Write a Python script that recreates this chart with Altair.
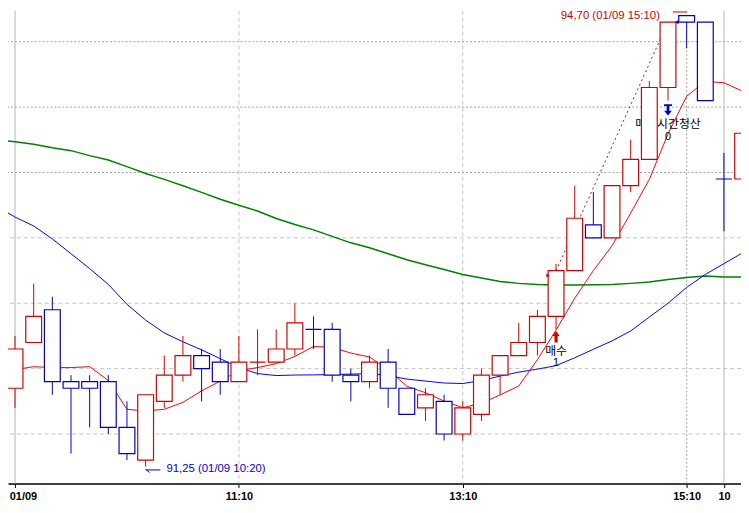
import altair as alt
import pandas as pd

# ---------------- data ----------------
# 10-minute bars; index 0 = first bar of 01/09, index 38 = first bar of 01/10
bar_idx = list(range(-1, 40))
opens = [91.85, 91.85, 92.20, 92.45, 91.90, 91.90, 91.90, 91.55, 91.30, 91.75,
         91.95, 92.10, 92.05, 91.90, 92.05, 92.05, 92.15, 92.30, 92.30, 91.95,
         91.90, 92.05, 91.85, 91.70, 91.75, 91.50, 91.65, 91.95, 92.10, 92.20,
         92.40, 92.75, 93.10, 93.00, 93.40, 93.60, 94.15, 94.70, 94.65, 93.45,
         93.45]
highs = [91.85, 92.25, 92.65, 92.55, 91.95, 91.95, 91.95, 91.75, 91.80, 92.10,
         92.25, 92.15, 92.15, 92.25, 92.30, 92.30, 92.50, 92.40, 92.35, 92.00,
         92.10, 92.15, 91.85, 91.85, 91.80, 91.75, 92.00, 92.10, 92.35, 92.45,
         92.80, 93.40, 93.35, 93.40, 93.75, 94.20, 94.65, 94.70, 94.65, 93.65,
         93.80]
lows = [91.80, 91.70, 92.20, 91.80, 91.35, 91.55, 91.50, 91.30, 91.25, 91.70,
        91.90, 91.75, 91.80, 91.90, 91.95, 92.05, 92.10, 92.15, 91.90, 91.75,
        91.85, 91.70, 91.65, 91.60, 91.45, 91.45, 91.60, 91.80, 92.10, 92.10,
        92.30, 92.75, 93.00, 93.00, 93.35, 93.60, 94.05, 94.45, 94.05, 93.05,
        93.45]
closes = [91.80, 92.15, 92.40, 91.90, 91.85, 91.85, 91.55, 91.35, 91.80, 91.95,
          92.10, 92.00, 91.90, 92.05, 92.05, 92.15, 92.35, 92.30, 91.95, 91.90,
          92.05, 91.85, 91.65, 91.80, 91.50, 91.70, 91.95, 92.10, 92.20, 92.40,
          92.75, 93.15, 93.00, 93.40, 93.60, 94.15, 94.65, 94.65, 94.05, 93.45,
          93.80]
updown = ["down", "up", "up", "down", "down", "down", "down", "down", "up", "up",
          "up", "down", "down", "up", "up", "up", "up", "down", "down", "down",
          "up", "down", "down", "up", "down", "up", "up", "up", "up", "up",
          "up", "up", "down", "up", "up", "up", "up", "down", "down", "down",
          "up"]

ma_short = [91.992, 91.992, 92.015, 92.008, 92.008, 92.015, 91.909, 91.689, 91.676, 91.689,
            91.742, 91.830, 91.904, 91.985, 92.008, 92.038, 92.093, 92.169, 92.163, 92.119,
            92.089, 91.992, 91.866, 91.816, 91.752, 91.701, 91.735, 91.799, 91.867, 92.068,
            92.295, 92.538, 92.750, 92.939, 93.189, 93.447, 93.795, 94.083, 94.197, 94.186,
            94.121]
ma_mid = [93.242, 93.159, 93.091, 92.992, 92.879, 92.765, 92.644, 92.492, 92.371, 92.273,
          92.205, 92.144, 92.076, 92.008, 91.962, 91.947, 91.951, 91.952, 91.955, 91.958,
          91.962, 91.947, 91.920, 91.905, 91.890, 91.886, 91.909, 91.943, 91.973, 91.996,
          92.023, 92.083, 92.148, 92.212, 92.288, 92.394, 92.500, 92.621, 92.720, 92.803,
          92.886]
ma_long = [93.750, 93.735, 93.716, 93.689, 93.667, 93.629, 93.595, 93.545, 93.492, 93.447,
           93.398, 93.348, 93.295, 93.250, 93.205, 93.148, 93.102, 93.061, 93.011, 92.962,
           92.924, 92.879, 92.833, 92.795, 92.758, 92.720, 92.693, 92.667, 92.652, 92.644,
           92.640, 92.640, 92.642, 92.644, 92.652, 92.663, 92.682, 92.697, 92.708, 92.701,
           92.701]

tick_idx = [0, 12, 24, 36, 38]
tick_labels = ["01/09", "11:10", "13:10", "15:10", "10"]
grid_light_prices = [91.5, 92.0, 92.5, 93.0]
grid_dark_prices = [93.5, 94.0, 94.5]
grid_light_idx = [12, 24]
grid_dark_idx = [36]
day_idx = [0, 38]

low_idx, low_price, low_text = 7, 91.25, "91,25 (01/09 10:20)"
high_idx, high_price, high_text = 36, 94.70, "94,70 (01/09 15:10)"
entry_idx, entry_price = 29, 92.75
exit_idx, exit_price = 35, 94.65
exit_mark_price = 94.65
buy_text, buy_count = "매수", "1"
sell_text, sell_count = "매도시간청산", "0"

# ---------------- styling ----------------
RED = "#d40000"
BLUE = "#0000cc"
MA_RED = "#ff0000"
MA_BLUE = "#0000ff"
MA_GREEN = "#008000"
X_DOMAIN = [-0.3765, 38.913]
Y_DOMAIN = [91.121, 94.737]
HALF = 0.424

candles = pd.DataFrame({"idx": bar_idx, "open": opens, "high": highs,
                        "low": lows, "close": closes, "dir": updown})
ma_df = pd.DataFrame({"idx": bar_idx, "s": ma_short, "m": ma_mid, "l": ma_long})

xs = alt.Scale(domain=X_DOMAIN, nice=False, zero=False)
ys = alt.Scale(domain=Y_DOMAIN, nice=False, zero=False)

expr = "''"
for v, t in reversed(list(zip(tick_idx, tick_labels))):
    expr = f"datum.value == {v} ? '{t}' : ({expr})"

x_axis = alt.Axis(values=tick_idx, labelExpr=expr, title=None, grid=False,
                  domainColor="black", domainWidth=1.5, tickColor="black",
                  tickSize=4, tickWidth=1, labelFont="Liberation Sans",
                  labelFontSize=11, labelFontWeight="bold", labelColor="black",
                  labelPadding=3, labelOverlap=False, labelFlush=False,
                  labelOffset={"condition": {"test": f"datum.value == {tick_idx[0]}",
                                             "value": 8}, "value": 0})


def X(field):
    return alt.X(field, type="quantitative", scale=xs, axis=x_axis)


def Y(field):
    return alt.Y(field, type="quantitative", scale=ys, axis=None)


dir_scale = alt.Scale(domain=["up", "down"], range=[RED, BLUE])

g_light_h = alt.Chart(pd.DataFrame({"price": grid_light_prices})).mark_rule(
    color="#c4c4c4", strokeDash=[4, 3], strokeWidth=1).encode(y=Y("price"))
g_dark_h = alt.Chart(pd.DataFrame({"price": grid_dark_prices})).mark_rule(
    color="#a0a0a0", strokeDash=[2, 2], strokeWidth=1).encode(y=Y("price"))
g_light_v = alt.Chart(pd.DataFrame({"idx": grid_light_idx})).mark_rule(
    color="#c4c4c4", strokeDash=[4, 3], strokeWidth=1).encode(x=X("idx"))
g_dark_v = alt.Chart(pd.DataFrame({"idx": grid_dark_idx})).mark_rule(
    color="#a0a0a0", strokeDash=[2, 2], strokeWidth=1).encode(x=X("idx"))
g_day = alt.Chart(pd.DataFrame({"idx": day_idx})).mark_rule(
    color="#c0c0c0", strokeWidth=1.2).encode(x=X("idx"))

ma_base = alt.Chart(ma_df)
l_long = ma_base.mark_line(color=MA_GREEN, strokeWidth=1.5).encode(x=X("idx"), y=Y("l"))
l_mid = ma_base.mark_line(color=MA_BLUE, strokeWidth=1).encode(x=X("idx"), y=Y("m"))
l_short = ma_base.mark_line(color=MA_RED, strokeWidth=1).encode(x=X("idx"), y=Y("s"))

trade = alt.Chart(pd.DataFrame({"idx": [entry_idx, exit_idx],
                                "price": [entry_price, exit_price]})).mark_line(
    color=RED, strokeDash=[2, 3], strokeWidth=1).encode(x=X("idx"), y=Y("price"))

low_of = dict(zip(bar_idx, lows))
buy_df = pd.DataFrame({"idx": [entry_idx], "anchor": [low_of[entry_idx]],
                       "t": [buy_text], "c": [buy_count]})
sell_df = pd.DataFrame({"idx": [exit_idx], "anchor": [low_of[exit_idx]],
                        "t": [sell_text], "c": [sell_count]})

buy_lbl = alt.Chart(buy_df).mark_text(font="Noto Sans CJK KR", fontSize=12, color="black",
                                      baseline="middle", align="center", dy=21.5).encode(
    x=X("idx"), y=Y("anchor"), text="t:N")
buy_cnt = alt.Chart(buy_df).mark_text(font="Liberation Sans", fontSize=11, color="black",
                                      baseline="middle", align="center", dy=34.5).encode(
    x=X("idx"), y=Y("anchor"), text="c:N")
sell_lbl = alt.Chart(sell_df).mark_text(font="Noto Sans CJK KR", fontSize=12, color="black",
                                        baseline="middle", align="center", dy=23.7).encode(
    x=X("idx"), y=Y("anchor"), text="t:N")
sell_cnt = alt.Chart(sell_df).mark_text(font="Liberation Sans", fontSize=11, color="black",
                                        baseline="middle", align="center", dy=37).encode(
    x=X("idx"), y=Y("anchor"), text="c:N")

wicks = alt.Chart(candles).mark_rule(strokeWidth=1).encode(
    x=X("idx"), y=Y("low"), y2="high:Q",
    color=alt.Color("dir:N", scale=dir_scale, legend=None))
bodies = alt.Chart(candles).transform_calculate(
    x0=f"datum.idx - {HALF}", x1=f"datum.idx + {HALF}").mark_rect(
    fill="white", strokeWidth=1.2).encode(
    x=X("x0"), x2="x1:Q", y=Y("open"), y2="close:Q",
    stroke=alt.Stroke("dir:N", scale=dir_scale, legend=None))

UP_ARROW = "M0,-1L0.62,-0.12L0.27,-0.12L0.27,1L-0.27,1L-0.27,-0.12L-0.62,-0.12Z"
DOWN_ARROW = ("M-0.7,-1L0.7,-1L0.7,-0.72L0.24,-0.72L0.24,0.15L0.7,0.15L0,1L-0.7,0.15"
              "L-0.24,0.15L-0.24,-0.72L-0.7,-0.72Z")
buy_arrow = alt.Chart(buy_df).mark_point(shape=UP_ARROW, filled=True, size=137,
                                         color=RED, opacity=1, strokeWidth=0,
                                         yOffset=7.5).encode(x=X("idx"), y=Y("anchor"))
sell_arrow = alt.Chart(sell_df).mark_point(shape=DOWN_ARROW, filled=True, size=128,
                                           color=BLUE, opacity=1, strokeWidth=0,
                                           yOffset=9.5).encode(x=X("idx"), y=Y("anchor"))

entry_mark = alt.Chart(pd.DataFrame({"idx": [entry_idx], "price": [entry_price]})).mark_point(
    shape="triangle-right", filled=True, size=18, color=RED, opacity=1, strokeWidth=0,
    xOffset=-8, yOffset=5).encode(x=X("idx"), y=Y("price"))
exit_mark = alt.Chart(pd.DataFrame({"idx": [high_idx], "price": [exit_mark_price]})).mark_point(
    shape="triangle-left", filled=True, size=18, color=BLUE, opacity=1, strokeWidth=0,
    xOffset=-10).encode(x=X("idx"), y=Y("price"))

low_df = pd.DataFrame({"idx": [low_idx], "price": [low_price], "t": [low_text]})
high_df = pd.DataFrame({"idx": [high_idx], "price": [high_price], "t": [high_text]})

low_txt = alt.Chart(low_df).mark_text(font="Liberation Sans", fontSize=11.5, color=BLUE,
                                      align="left", baseline="middle", dx=21, dy=2).encode(
    x=X("idx"), y=Y("price"), text="t:N")
low_arrow = alt.Chart(low_df).mark_rule(color=BLUE, strokeWidth=1, x2Offset=15,
                                        yOffset=3.3, y2Offset=3.3).encode(
    x=X("idx"), x2="idx:Q", y=Y("price"), y2="price:Q")
low_hook = alt.Chart(low_df).mark_rule(color=BLUE, strokeWidth=1, x2Offset=4,
                                       yOffset=2.3, y2Offset=6).encode(
    x=X("idx"), x2="idx:Q", y=Y("price"), y2="price:Q")

high_txt = alt.Chart(high_df).mark_text(font="Liberation Sans", fontSize=11.5, color=RED,
                                        align="right", baseline="middle", dx=-27, dy=0.5).encode(
    x=X("idx"), y=Y("price"), text="t:N")
high_arrow = alt.Chart(high_df).mark_rule(color=RED, strokeWidth=1, xOffset=-14,
                                          yOffset=-3.6, y2Offset=-3.6).encode(
    x=X("idx"), x2="idx:Q", y=Y("price"), y2="price:Q")

chart = alt.layer(
    g_light_h, g_dark_h, g_light_v, g_dark_v, g_day,
    l_long, l_mid, l_short, trade,
    buy_lbl, buy_cnt, sell_lbl, sell_cnt,
    wicks, bodies,
    buy_arrow, sell_arrow, entry_mark, exit_mark,
    low_arrow, low_hook, low_txt, high_arrow, high_txt,
).properties(
    width=741, height=478,
    padding={"left": 0, "top": 0, "right": 0, "bottom": 27},
    autosize=alt.AutoSizeParams(type="none"),
).configure_view(strokeWidth=0)

chart.save("out.html", embed_options={"renderer": "svg", "actions": False})
